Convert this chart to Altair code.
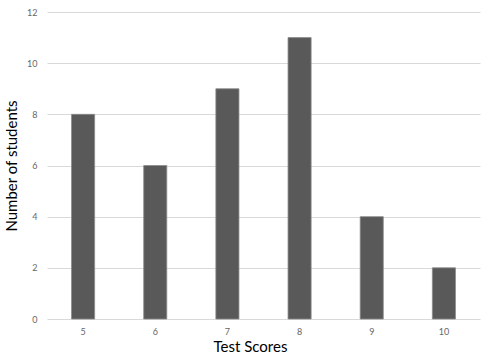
import altair as alt
import pandas as pd

scores = ["5", "6", "7", "8", "9", "10"]
students = [8, 6, 9, 11, 4, 2]

df = pd.DataFrame({"score": scores, "students": students})

chart = alt.Chart(df).mark_bar(
    color="#595959", stroke="#8a8a8a", strokeWidth=0.8
).encode(
    x=alt.X("score:N", sort=scores,
            scale=alt.Scale(paddingInner=0.68, paddingOuter=0.34),
            axis=alt.Axis(title="Test Scores", labelAngle=0, domain=False, ticks=False,
                          labelFont="Lato", labelFontSize=9, labelColor="#666666",
                          labelPadding=8, titleFont="Lato", titleFontSize=15,
                          titleFontWeight="normal", titleColor="#000000",
                          titlePadding=3, titleX=203)),
    y=alt.Y("students:Q", scale=alt.Scale(domain=[0, 12], nice=False),
            axis=alt.Axis(title="Number of students", values=[0, 2, 4, 6, 8, 10, 12],
                          domain=False, ticks=False, grid=True, gridColor="#d9d9d9",
                          gridWidth=1, labelFont="Lato", labelFontSize=9,
                          labelColor="#666666", labelPadding=10, titleFont="Lato",
                          titleFontSize=15, titleFontWeight="normal",
                          titleColor="#000000", titlePadding=7)),
).properties(
    width=433, height=307,
    autosize=alt.AutoSizeParams(type="none"),
    padding={"left": 47, "top": 12, "right": 8, "bottom": 45},
).configure_view(stroke=None)

chart.save("out.html", embed_options={"renderer": "svg", "actions": False})
